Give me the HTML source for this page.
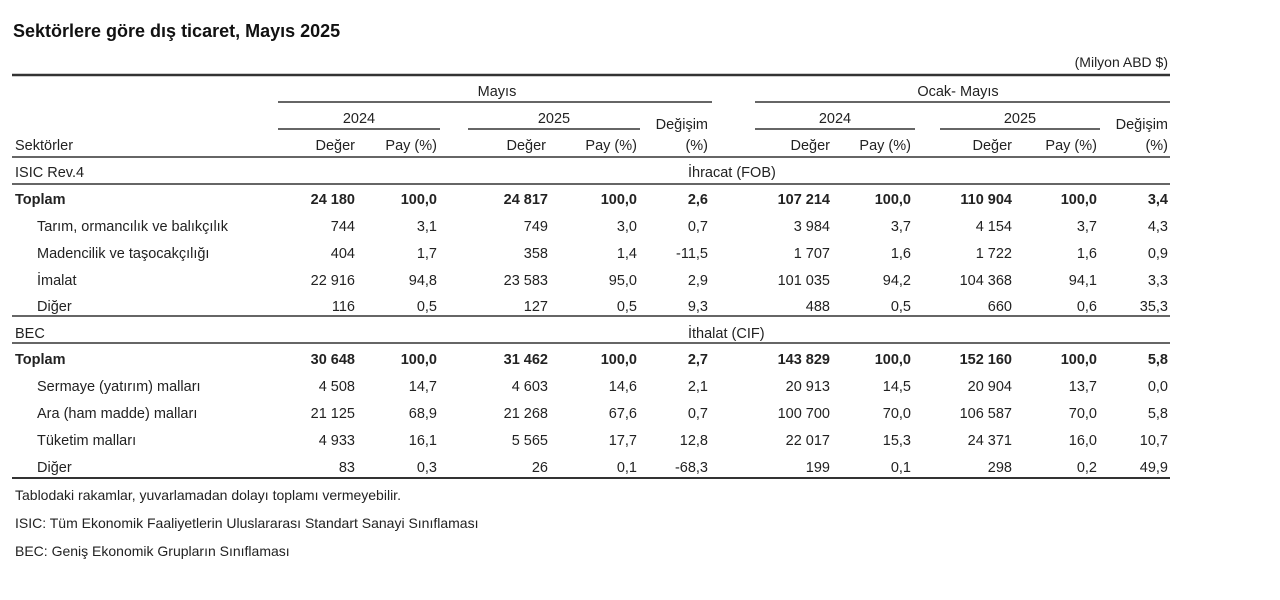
<!DOCTYPE html><html><head><meta charset="utf-8"><style>
body{margin:0;background:#fff;width:1280px;height:595px;overflow:hidden}
svg text{font-family:"Liberation Sans",sans-serif;font-size:14.5px;fill:#222}
.b{font-weight:bold}
.r text{text-anchor:end}
.m{text-anchor:middle}
</style></head><body>
<svg width="1280" height="595" xmlns="http://www.w3.org/2000/svg">
<text x="13" y="37" style="font-family:'Liberation Sans',sans-serif;font-size:18px;font-weight:bold;fill:#111">Sektörlere göre dış ticaret, Mayıs 2025</text>
<text x="1168" y="67" style="text-anchor:end;font-size:14px">(Milyon ABD $)</text>
<g stroke="#333" fill="none">
<line x1="12" y1="75" x2="1170" y2="75" stroke-width="2.5"/>
<line x1="278" y1="102" x2="712" y2="102" stroke-width="1.5"/>
<line x1="755" y1="102" x2="1170" y2="102" stroke-width="1.5"/>
<line x1="278" y1="129" x2="440" y2="129" stroke-width="1.5"/>
<line x1="468" y1="129" x2="640" y2="129" stroke-width="1.5"/>
<line x1="755" y1="129" x2="915" y2="129" stroke-width="1.5"/>
<line x1="940" y1="129" x2="1100" y2="129" stroke-width="1.5"/>
<line x1="12" y1="157" x2="1170" y2="157" stroke-width="1.5"/>
<line x1="12" y1="184" x2="1170" y2="184" stroke-width="1.5"/>
<line x1="12" y1="316" x2="1170" y2="316" stroke-width="1.5"/>
<line x1="12" y1="343" x2="1170" y2="343" stroke-width="1.5"/>
<line x1="12" y1="478" x2="1170" y2="478" stroke-width="2"/>
</g>
<text x="497" y="96" class="m">Mayıs</text>
<text x="958" y="96" class="m">Ocak- Mayıs</text>
<text x="359" y="123" class="m">2024</text>
<text x="554" y="123" class="m">2025</text>
<text x="835" y="123" class="m">2024</text>
<text x="1020" y="123" class="m">2025</text>
<text x="708" y="129" style="text-anchor:end">Değişim</text>
<text x="1168" y="129" style="text-anchor:end">Değişim</text>
<text x="15" y="150">Sektörler</text>
<g class="r">
<text x="355" y="150">Değer</text><text x="437" y="150">Pay (%)</text>
<text x="546" y="150">Değer</text><text x="637" y="150">Pay (%)</text><text x="708" y="150">(%)</text>
<text x="830" y="150">Değer</text><text x="911" y="150">Pay (%)</text>
<text x="1012" y="150">Değer</text><text x="1097" y="150">Pay (%)</text><text x="1168" y="150">(%)</text>
</g>
<text x="15" y="177">ISIC  Rev.4</text><text x="688" y="177">İhracat (FOB)</text>
<text x="15" y="338">BEC</text><text x="688" y="338">İthalat (CIF)</text>
<g class="r">
<g class="b"><text x="355" y="204">24 180</text><text x="437" y="204">100,0</text><text x="548" y="204">24 817</text><text x="637" y="204">100,0</text><text x="708" y="204">2,6</text><text x="830" y="204">107 214</text><text x="911" y="204">100,0</text><text x="1012" y="204">110 904</text><text x="1097" y="204">100,0</text><text x="1168" y="204">3,4</text></g>
<text x="355" y="231">744</text><text x="437" y="231">3,1</text><text x="548" y="231">749</text><text x="637" y="231">3,0</text><text x="708" y="231">0,7</text><text x="830" y="231">3 984</text><text x="911" y="231">3,7</text><text x="1012" y="231">4 154</text><text x="1097" y="231">3,7</text><text x="1168" y="231">4,3</text>
<text x="355" y="258">404</text><text x="437" y="258">1,7</text><text x="548" y="258">358</text><text x="637" y="258">1,4</text><text x="708" y="258">-11,5</text><text x="830" y="258">1 707</text><text x="911" y="258">1,6</text><text x="1012" y="258">1 722</text><text x="1097" y="258">1,6</text><text x="1168" y="258">0,9</text>
<text x="355" y="285">22 916</text><text x="437" y="285">94,8</text><text x="548" y="285">23 583</text><text x="637" y="285">95,0</text><text x="708" y="285">2,9</text><text x="830" y="285">101 035</text><text x="911" y="285">94,2</text><text x="1012" y="285">104 368</text><text x="1097" y="285">94,1</text><text x="1168" y="285">3,3</text>
<text x="355" y="311">116</text><text x="437" y="311">0,5</text><text x="548" y="311">127</text><text x="637" y="311">0,5</text><text x="708" y="311">9,3</text><text x="830" y="311">488</text><text x="911" y="311">0,5</text><text x="1012" y="311">660</text><text x="1097" y="311">0,6</text><text x="1168" y="311">35,3</text>
<g class="b"><text x="355" y="364">30 648</text><text x="437" y="364">100,0</text><text x="548" y="364">31 462</text><text x="637" y="364">100,0</text><text x="708" y="364">2,7</text><text x="830" y="364">143 829</text><text x="911" y="364">100,0</text><text x="1012" y="364">152 160</text><text x="1097" y="364">100,0</text><text x="1168" y="364">5,8</text></g>
<text x="355" y="391">4 508</text><text x="437" y="391">14,7</text><text x="548" y="391">4 603</text><text x="637" y="391">14,6</text><text x="708" y="391">2,1</text><text x="830" y="391">20 913</text><text x="911" y="391">14,5</text><text x="1012" y="391">20 904</text><text x="1097" y="391">13,7</text><text x="1168" y="391">0,0</text>
<text x="355" y="418">21 125</text><text x="437" y="418">68,9</text><text x="548" y="418">21 268</text><text x="637" y="418">67,6</text><text x="708" y="418">0,7</text><text x="830" y="418">100 700</text><text x="911" y="418">70,0</text><text x="1012" y="418">106 587</text><text x="1097" y="418">70,0</text><text x="1168" y="418">5,8</text>
<text x="355" y="445">4 933</text><text x="437" y="445">16,1</text><text x="548" y="445">5 565</text><text x="637" y="445">17,7</text><text x="708" y="445">12,8</text><text x="830" y="445">22 017</text><text x="911" y="445">15,3</text><text x="1012" y="445">24 371</text><text x="1097" y="445">16,0</text><text x="1168" y="445">10,7</text>
<text x="355" y="472">83</text><text x="437" y="472">0,3</text><text x="548" y="472">26</text><text x="637" y="472">0,1</text><text x="708" y="472">-68,3</text><text x="830" y="472">199</text><text x="911" y="472">0,1</text><text x="1012" y="472">298</text><text x="1097" y="472">0,2</text><text x="1168" y="472">49,9</text>
</g>
<text x="15" y="204" class="b">Toplam</text>
<text x="37" y="231">Tarım, ormancılık ve balıkçılık</text>
<text x="37" y="258">Madencilik ve taşocakçılığı</text>
<text x="37" y="285">İmalat</text>
<text x="37" y="311">Diğer</text>
<text x="15" y="364" class="b">Toplam</text>
<text x="37" y="391">Sermaye (yatırım) malları</text>
<text x="37" y="418">Ara (ham madde) malları</text>
<text x="37" y="445">Tüketim malları</text>
<text x="37" y="472">Diğer</text>
<text x="15" y="500" style="font-size:14px">Tablodaki rakamlar, yuvarlamadan dolayı toplamı vermeyebilir.</text>
<text x="15" y="528" style="font-size:14px">ISIC: Tüm Ekonomik Faaliyetlerin Uluslararası Standart Sanayi Sınıflaması</text>
<text x="15" y="556" style="font-size:14px">BEC: Geniş Ekonomik Grupların Sınıflaması</text>
</svg>
</body></html>
